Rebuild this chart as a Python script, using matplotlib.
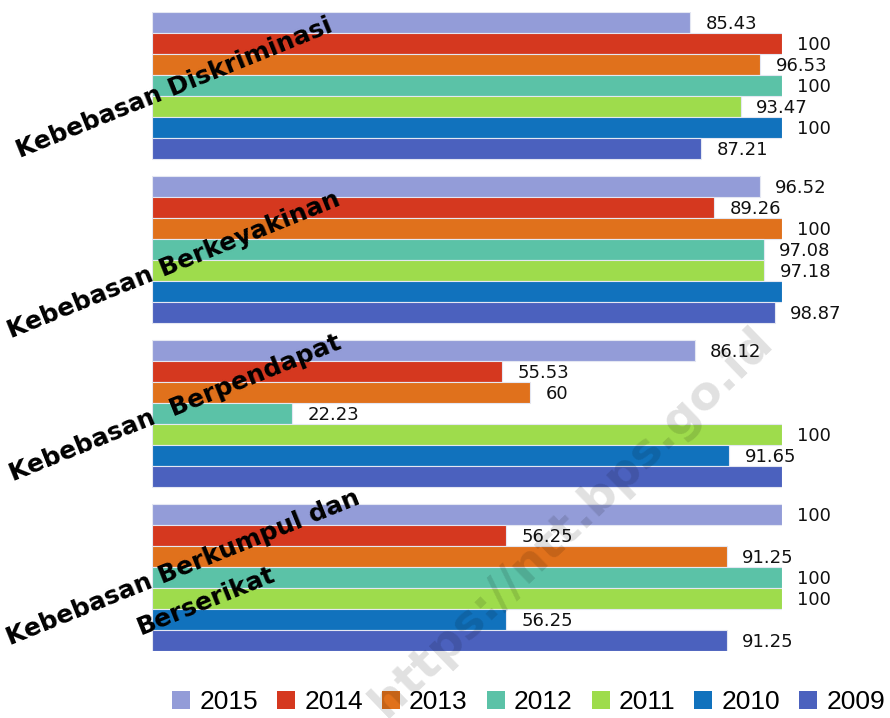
import matplotlib.pyplot as plt
from matplotlib.patches import Patch
import numpy as np

# data, top bar of each group is 2015, bottom is 2009
years = ['2015', '2014', '2013', '2012', '2011', '2010', '2009']
colors = ['#939CD8', '#D5381F', '#E0711C', '#5BC2A7', '#9EDC4C', '#1172BD', '#4B61BE']

categories = ['Kebebasan Diskriminasi', 'Kebebasan Berkeyakinan',
              'Kebebasan  Berpendapat', 'Kebebasan Berkumpul dan\nBerserikat']

diskriminasi = [85.43, 100, 96.53, 100, 93.47, 100, 87.21]
berkeyakinan = [96.52, 89.26, 100, 97.08, 97.18, 100, 98.87]
berpendapat = [86.12, 55.53, 60, 22.23, 100, 91.65, 100]
berkumpul = [100, 56.25, 91.25, 100, 100, 56.25, 91.25]

# which bars carry a value label in the original (two 100s were left unlabelled)
show_label = [
    [True] * 7,
    [True, True, True, True, True, False, True],
    [True, True, True, True, True, True, False],
    [True] * 7,
]

groups = [diskriminasi, berkeyakinan, berpendapat, berkumpul]
GROUP_STEP = 7.8

fig = plt.figure(figsize=(8.9, 7.18), dpi=100)
ax = fig.add_axes([152 / 890, 1 - 651 / 718, 630 / 890, 639 / 718])

for g, vals in enumerate(groups):
    ypos = g * GROUP_STEP + np.arange(len(vals)) + 0.5
    bars = ax.barh(ypos, vals, height=1.0, color=colors,
                   edgecolor='#e4e7f2', linewidth=0.8)
    for b, v, show in zip(bars, vals, show_label[g]):
        if not show:
            continue
        txt = f'{v:g}' if v != int(v) else str(int(v))
        ax.annotate(txt, (b.get_width(), b.get_y() + b.get_height() / 2),
                    xytext=(11, -1), textcoords='offset points',
                    ha='left', va='center', fontsize=13, color='#111111',
                    annotation_clip=False)

ax.set_xlim(0, 100)
ax.set_ylim(3 * GROUP_STEP + 7, 0)
ax.axis('off')

# rotated category labels (pixel anchors)
lab_kw = dict(fontsize=18, fontweight='bold', rotation=22, rotation_mode='anchor',
              ha='left', va='baseline', color='black')
first_lines = [c.split('\n')[0] for c in categories]
anchors = [(20, 158), (11, 338), (13, 481), (10, 645)]
for txt, (px, py) in zip(first_lines, anchors):
    fig.text(px / 890, 1 - py / 718, txt, **lab_kw)
fig.text(141 / 890, 1 - 635 / 718, categories[3].split('\n')[1], **lab_kw)

# watermark (runs off the bottom edge, as in the source image)
fig.text(572 / 890, 1 - 522 / 718, 'https://ntt.bps.go.id', fontsize=34,
         fontweight='bold', rotation=44, ha='center', va='center',
         color='black', alpha=0.12, zorder=10)

handles = [Patch(facecolor=c, edgecolor='none') for c in colors]
fig.legend(handles, years, loc='center', bbox_to_anchor=(0.594, 0.022), ncol=7,
           frameon=False, handlelength=0.68, handleheight=0.68,
           handletextpad=0.35, columnspacing=0.72,
           prop={'family': 'Liberation Sans', 'size': 19})

fig.savefig('out.png', dpi=100)
